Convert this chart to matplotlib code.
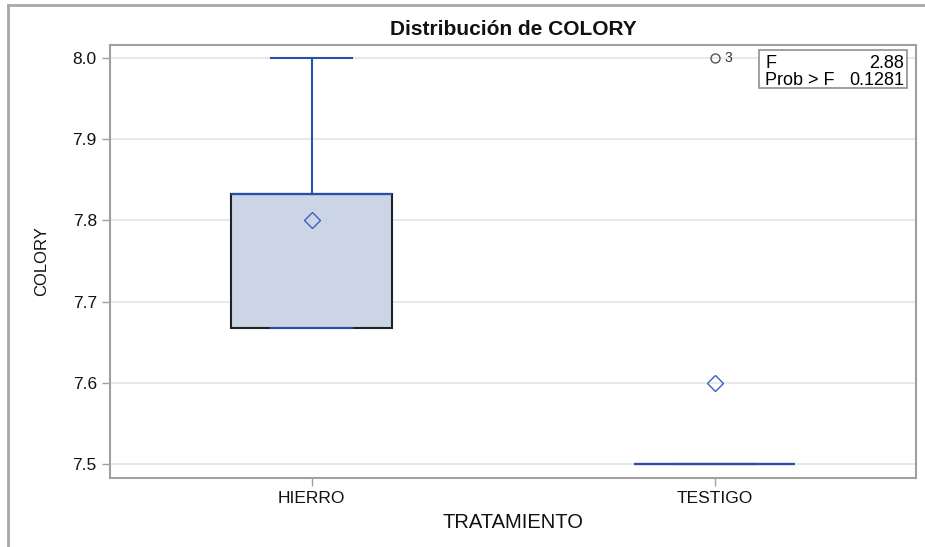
import matplotlib
matplotlib.use("Agg")
import matplotlib.pyplot as plt
from matplotlib.lines import Line2D
from matplotlib.patches import Rectangle

plt.rcParams['font.family'] = ['Liberation Sans', 'DejaVu Sans']

categories = ["HIERRO", "TESTIGO"]
q1 = [7.667, 7.5]
med = [7.833, 7.5]
q3 = [7.833, 7.5]
whislo = [7.667, 7.5]
whishi = [8.0, 7.5]
means = [7.8, 7.6]
fliers = [[], [8.0]]
flier_labels = [[], ["3"]]
yticks = [7.5, 7.6, 7.7, 7.8, 7.9, 8.0]
f_value = "2.88"
p_value = "0.1281"

W, H = 925, 547
fig = plt.figure(figsize=(W / 100, H / 100), dpi=100)
ax = fig.add_axes([110 / W, 1 - 478 / H, (916 - 110) / W, (478 - 45) / H])

blue = "#2a4eb0"
stats = []
for i in range(len(categories)):
    stats.append(dict(q1=q1[i], med=med[i], q3=q3[i], whislo=whislo[i],
                      whishi=whishi[i], mean=means[i], fliers=[], label=categories[i]))

ax.bxp(stats, positions=range(len(categories)), widths=0.4, patch_artist=True,
       showmeans=True, showfliers=False,
       boxprops=dict(facecolor="#cbd5e5", edgecolor="#222222", linewidth=1.5),
       medianprops=dict(color=blue, linewidth=1.6),
       whiskerprops=dict(color=blue, linewidth=1.5),
       capprops=dict(color=blue, linewidth=1.5),
       meanprops=dict(marker="D", markerfacecolor="none", markeredgecolor="#3a62c0",
                      markersize=8, markeredgewidth=1.0),
       capwidths=0.2, zorder=3)

for i, fl in enumerate(fliers):
    for v, lab in zip(fl, flier_labels[i]):
        ax.plot([i], [v], marker="o", markersize=6.5, markerfacecolor="none",
                markeredgecolor="#555555", markeredgewidth=1.0, zorder=4)
        ax.annotate(lab, (i, v), xytext=(7, 0), textcoords="offset points",
                    va="center", ha="left", fontsize=10, color="#333333")

ax.set_xlim(-0.5, 1.5)
ax.set_ylim(7.4828, 8.016)
ax.set_yticks(yticks)
ax.set_yticklabels([f"{t:.1f}" for t in yticks])
ax.set_xticks(range(len(categories)))
ax.set_xticklabels(categories)
ax.grid(axis="y", color="#e4e4e4", linewidth=1.2, zorder=0)
ax.set_axisbelow(True)
for s in ax.spines.values():
    s.set_color("#a0a0a0")
    s.set_linewidth(1.5)
ax.tick_params(axis="both", colors="#a0a0a0", labelcolor="#111111", labelsize=12.5,
               length=6, width=1)

ax.set_title("Distribución de COLORY", fontsize=15, fontweight="bold", pad=7, color="#111111")
ax.set_ylabel("COLORY", fontsize=12, labelpad=17, color="#111111")
ax.set_xlabel("TRATAMIENTO", fontsize=14.5, labelpad=5, color="#111111")

# inset stats box
ax.text(0.8127, 0.978, "F\nProb > F", transform=ax.transAxes, ha="left", va="top",
        fontsize=13, linespacing=1.0, zorder=6)
ax.text(0.985, 0.978, f"{f_value}\n{p_value}", transform=ax.transAxes, ha="right", va="top",
        fontsize=13, linespacing=1.0, zorder=6)
ax.add_patch(Rectangle((0.805, 0.9007), 0.1836, 0.0878, transform=ax.transAxes,
                       facecolor="white", edgecolor="#909090", linewidth=1.2, zorder=5))

# outer frame
fig.add_artist(Line2D([8 / W, 8 / W], [0, 1 - 5 / H], color="#a8a8a8", linewidth=2,
                      transform=fig.transFigure))
fig.add_artist(Line2D([8 / W, 1], [1 - 5 / H, 1 - 5 / H], color="#a8a8a8", linewidth=2,
                      transform=fig.transFigure))

fig.savefig("out.png", dpi=100)
